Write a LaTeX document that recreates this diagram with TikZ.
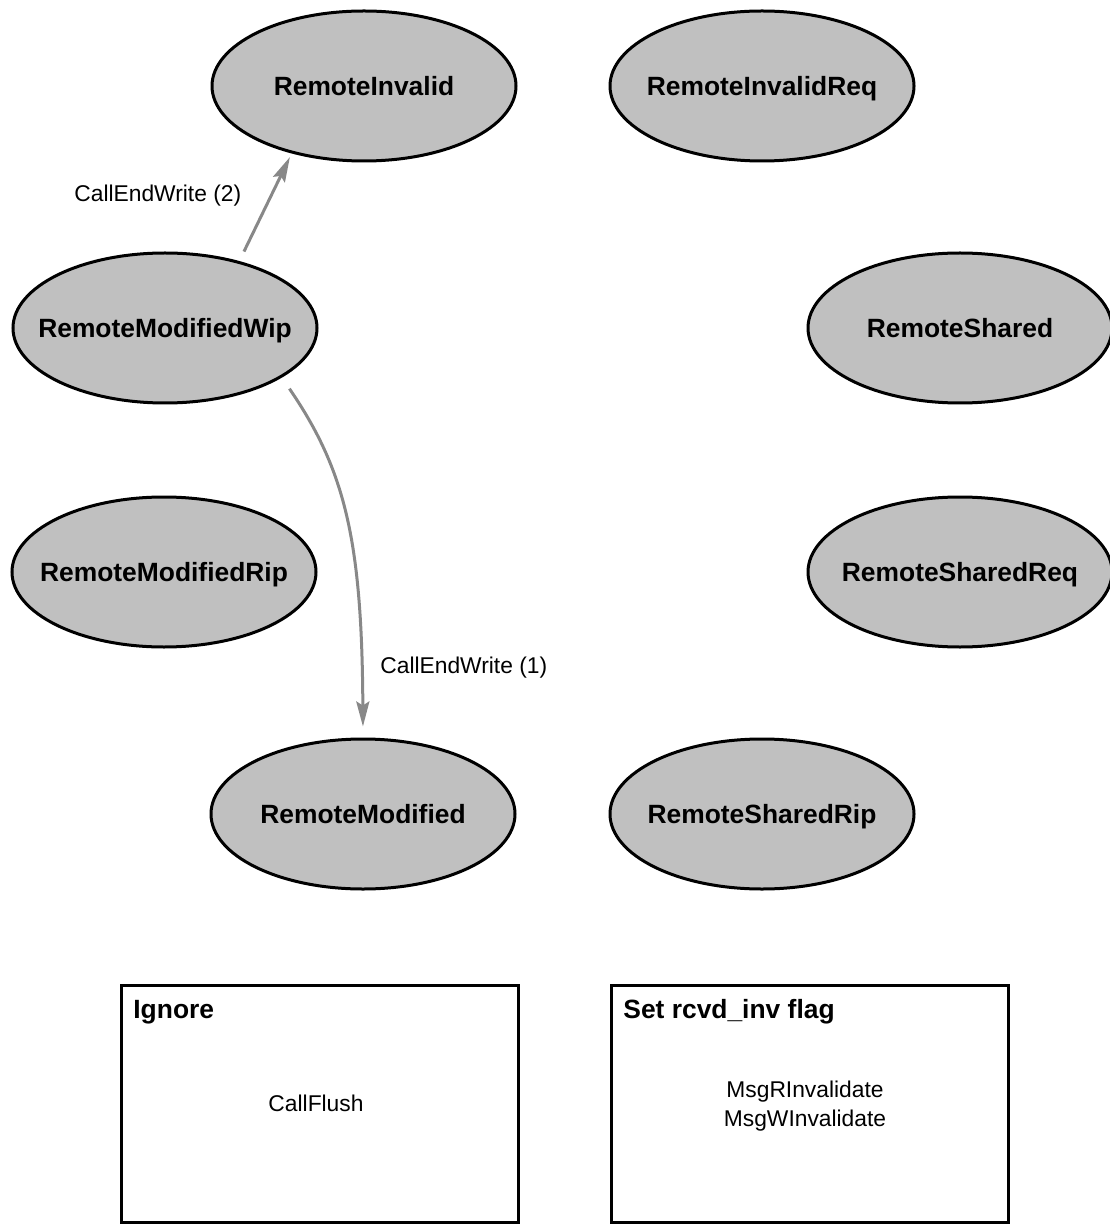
\documentclass[tikz,border=0pt]{standalone}
\usepackage{fontspec}
\setmainfont{Liberation Sans}
\usetikzlibrary{shapes.geometric,arrows.meta}
\definecolor{statefill}{HTML}{C0C0C0}
\definecolor{edgegray}{HTML}{888888}
\newcommand{\fixw}[1]{\makebox[0pt][c]{#1}}
\begin{document}
\begin{tikzpicture}[x=0.5pt,y=-0.5pt,
  state/.style={ellipse, draw=black, line width=1.5pt, fill=statefill,
    minimum width=152pt, minimum height=75pt, inner sep=0pt,
    text height=9.4pt, text depth=0pt,
    font=\fontsize{13.2}{15}\selectfont\bfseries},
  edge/.style={draw=edgegray, line width=1.5pt,
    -{Stealth[length=12.5pt,width=6.5pt,inset=2pt]}},
  elabel/.style={font=\fontsize{11.4}{14.5}\selectfont, inner sep=0pt},
  ptitle/.style={font=\fontsize{13.2}{15}\selectfont\bfseries, inner sep=0pt, anchor=base west},
  panel/.style={draw=black, line width=1.5pt, anchor=north west, inner sep=0pt,
    minimum width=198.5pt, minimum height=118.75pt}
]
\useasboundingbox (0,0) rectangle (1109,1224);

\node[state] (inv)    at (364,86)  {\fixw{RemoteInvalid}};
\node[state] (invreq) at (762,86)  {\fixw{RemoteInvalidReq}};
\node[state] (wip)    at (165,328) {\fixw{RemoteModifiedWip}};
\node[state] (sh)     at (960,328) {\fixw{RemoteShared}};
\node[state] (rip)    at (164,572) {\fixw{RemoteModifiedRip}};
\node[state] (shreq)  at (960,572) {\fixw{RemoteSharedReq}};
\node[state] (mod)    at (363,814) {\fixw{RemoteModified}};
\node[state] (shrip)  at (762,814) {\fixw{RemoteSharedRip}};

\draw[edge, shorten <=5.3pt, shorten >=2pt] (wip.42.7) -- (inv.223.5);
\draw[edge, shorten <=6.7pt, shorten >=5.5pt] (wip.-23.5) .. controls (345,470) and (362,540) .. (mod.90);

\node[elabel, anchor=base west] (l2) at (74,202)  {CallEndWrite (2)};
\node[elabel, anchor=base west] (l1) at (380,673) {CallEndWrite (1)};

\node[panel] (ign) at (119.5,983.5) {};
\node[panel] (set) at (609.5,983.5) {};
\node[ptitle] (ignt) at (133,1018) {Ignore};
\node[ptitle] (sett) at (623,1018) {Set rcvd\_inv flag};
\node[elabel, anchor=base] (cf) at (316,1111) {CallFlush};
\node[elabel, anchor=base] (mr) at (805,1097) {MsgRInvalidate};
\node[elabel, anchor=base] (mw) at (805,1126) {MsgWInvalidate};
\end{tikzpicture}
\end{document}
